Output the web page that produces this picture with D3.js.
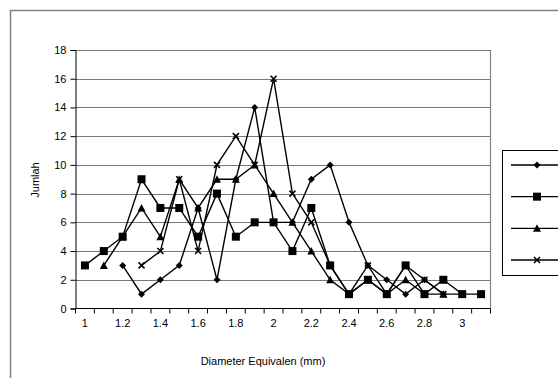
<!DOCTYPE html>
<html><head><meta charset="utf-8">
<script src="https://cdn.jsdelivr.net/npm/d3@7"></script>
<style>body{margin:0;background:#fff}svg{display:block}text{font-family:"Liberation Sans",Arial,sans-serif;fill:#000}</style>
</head><body><svg id="c" width="558" height="378"></svg>
<script>
const categories = ["1","1.1","1.2","1.3","1.4","1.5","1.6","1.7","1.8","1.9","2","2.1","2.2","2.3","2.4","2.5","2.6","2.7","2.8","2.9","3","3.1"];
const tickLabels = ["1","1.2","1.4","1.6","1.8","2","2.2","2.4","2.6","2.8","3"];
const yTicks = [0,2,4,6,8,10,12,14,16,18];
const seriesDiamond  = [null,null,3,1,2,3,7,2,9,14,6,6,9,10,6,3,2,1,2,1,null,null];
const seriesSquare   = [3,4,5,9,7,7,5,8,5,6,6,4,7,3,1,2,1,3,1,2,1,1];
const seriesTriangle = [null,3,5,7,5,9,7,9,9,10,8,6,4,2,1,2,1,2,1,1,null,null];
const seriesCross    = [null,null,null,3,4,9,4,10,12,10,16,8,6,3,1,3,1,3,2,1,1,null];
const seriesList = [
  {name:"diamond", values:seriesDiamond},
  {name:"square", values:seriesSquare},
  {name:"triangle", values:seriesTriangle},
  {name:"cross", values:seriesCross}
];

const svg = d3.select("#c");
svg.append("rect").attr("x",10.5).attr("y",10.5).attr("width",620).attr("height",420)
  .attr("fill","none").attr("stroke","#808080").attr("stroke-width",1.5);

const L=75.5, R=490.5, T=50, B=308.5;
const x = d3.scaleBand().domain(categories).range([L,R]);
const y = d3.scaleLinear().domain([0,18]).range([B,T]);
const cx = c => x(c)+x.bandwidth()/2;

svg.append("g").selectAll("line").data(yTicks.filter(d=>d>0)).join("line")
  .attr("x1",L).attr("x2",R).attr("y1",d=>Math.round(y(d))+0.5).attr("y2",d=>Math.round(y(d))+0.5)
  .attr("stroke","#777").attr("stroke-width",1);
svg.append("line").attr("x1",R).attr("x2",R).attr("y1",T).attr("y2",B).attr("stroke","#808080").attr("stroke-width",1.2);

const yAxis = d3.axisLeft(y).tickValues(yTicks).tickSize(5).tickPadding(4);
const gy = svg.append("g").attr("transform",`translate(${L},0)`).call(yAxis);
gy.select(".domain").attr("stroke","#000");
gy.selectAll(".tick line").attr("stroke","#000");
gy.selectAll("text").attr("font-size",11).style("font-family","Liberation Sans, Arial, sans-serif");

const xAxis = d3.axisBottom(x).tickValues(tickLabels).tickSize(0).tickPadding(11);
const gx = svg.append("g").attr("transform",`translate(0,${B})`).call(xAxis);
gx.select(".domain").attr("stroke","#000").attr("d",`M${L},0H${R}`);
gx.selectAll("text").attr("font-size",11).style("font-family","Liberation Sans, Arial, sans-serif");
const bounds = categories.map(c=>x(c)).concat([R]);
gx.append("g").selectAll("line").data(bounds).join("line")
  .attr("x1",d=>d).attr("x2",d=>d).attr("y1",0).attr("y2",5).attr("stroke","#000");

svg.append("text").attr("x",(L+R)/2-20).attr("y",365).attr("text-anchor","middle").attr("font-size",11).text("Diameter Equivalen (mm)");
svg.append("text").attr("transform","translate(39,180) rotate(-90)").attr("text-anchor","middle").attr("font-size",11).text("Jumlah");

function marker(g, type, px, py){
  if(type==="diamond") g.append("path").attr("d",`M${px},${py-3.5}L${px+3.5},${py}L${px},${py+3.5}L${px-3.5},${py}Z`).attr("fill","#000");
  else if(type==="square") g.append("rect").attr("x",px-4).attr("y",py-4).attr("width",8).attr("height",8).attr("fill","#000");
  else if(type==="triangle") g.append("path").attr("d",`M${px},${py-4}L${px+4},${py+3.5}L${px-4},${py+3.5}Z`).attr("fill","#000");
  else if(type==="cross") g.append("path").attr("d",`M${px-3},${py-3}L${px+3},${py+3}M${px+3},${py-3}L${px-3},${py+3}`).attr("stroke","#000").attr("stroke-width",1.6);
}

const line = d3.line().defined(d=>d.v!=null).x(d=>cx(d.c)).y(d=>y(d.v));
seriesList.forEach(s=>{
  const pts = categories.map((c,i)=>({c,v:s.values[i]}));
  const g = svg.append("g");
  g.append("path").attr("d",line(pts)).attr("fill","none").attr("stroke","#000").attr("stroke-width",1.4);
  pts.filter(d=>d.v!=null).forEach(d=>marker(g,s.name,cx(d.c),y(d.v)));
});

const lg = svg.append("g");
lg.append("rect").attr("x",502.5).attr("y",150.5).attr("width",120).attr("height",125).attr("fill","#fff").attr("stroke","#000").attr("stroke-width",1);
const ly = d3.scalePoint().domain(seriesList.map(s=>s.name)).range([165,260]);
seriesList.forEach(s=>{
  lg.append("line").attr("x1",511).attr("x2",562).attr("y1",ly(s.name)).attr("y2",ly(s.name)).attr("stroke","#000").attr("stroke-width",1.4);
  marker(lg,s.name,537,ly(s.name));
});
</script></body></html>
